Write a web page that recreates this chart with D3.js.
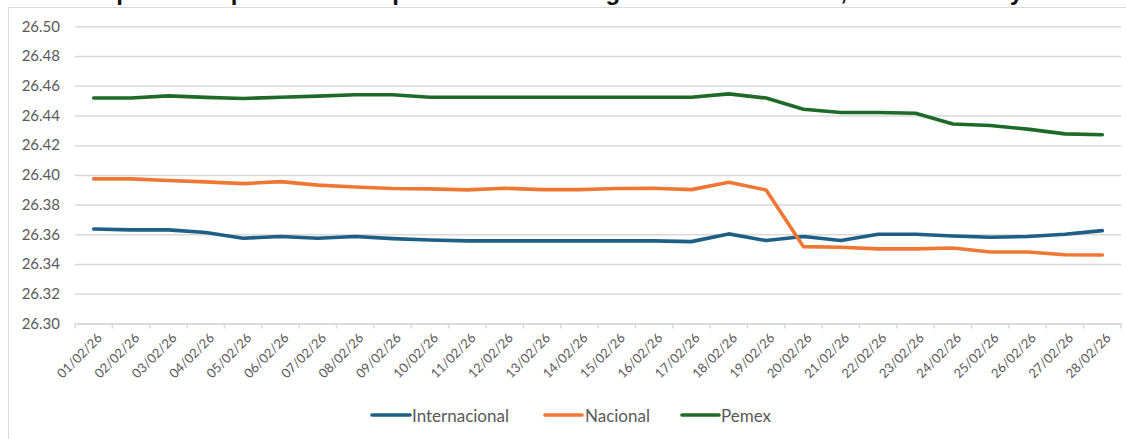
<!DOCTYPE html>
<html>
<head>
<meta charset="utf-8">
<script src="https://cdn.jsdelivr.net/npm/d3@7"></script>
<style>
  html, body { margin: 0; padding: 0; background: #fff; }
  svg { display: block; }
</style>
</head>
<body>
<svg id="chart" width="1126" height="439"></svg>
<script>
const categories = ["01/02/26","02/02/26","03/02/26","04/02/26","05/02/26","06/02/26","07/02/26",
  "08/02/26","09/02/26","10/02/26","11/02/26","12/02/26","13/02/26","14/02/26","15/02/26",
  "16/02/26","17/02/26","18/02/26","19/02/26","20/02/26","21/02/26","22/02/26","23/02/26",
  "24/02/26","25/02/26","26/02/26","27/02/26","28/02/26"];

const internacional = [26.3636,26.3630,26.3630,26.3612,26.3574,26.3585,26.3574,26.3585,26.3571,
  26.3562,26.3556,26.3556,26.3556,26.3556,26.3556,26.3556,26.3551,26.3603,26.3558,26.3585,
  26.3558,26.3601,26.3601,26.3589,26.3580,26.3585,26.3601,26.3625];

const nacional = [26.3973,26.3973,26.3962,26.3953,26.3941,26.3955,26.3931,26.3919,26.3908,
  26.3906,26.3899,26.3910,26.3901,26.3901,26.3908,26.3910,26.3901,26.3951,26.3899,26.3517,
  26.3513,26.3502,26.3502,26.3508,26.3481,26.3481,26.3463,26.3461];

const pemex = [26.4517,26.4517,26.4532,26.4522,26.4514,26.4523,26.4530,26.4539,26.4539,
  26.4523,26.4523,26.4523,26.4523,26.4523,26.4523,26.4523,26.4523,26.4545,26.4517,26.4442,
  26.4420,26.4420,26.4415,26.4343,26.4332,26.4308,26.4276,26.4270];

const seriesNames = ["Internacional","Nacional","Pemex"];
const seriesColors = ["#1d5f85","#ee7733","#1e6b28"];
const yTicks = [26.30,26.32,26.34,26.36,26.38,26.40,26.42,26.44,26.46,26.48,26.50];
const titleText = "Comparativo tipo de cambio para solventar obligaciones de Febrero, Internacional y Pemex";

(function () {
const svg = d3.select("#chart");
const W = 1126, H = 439;
const plotLeft = 75, plotRight = 1121, plotTop = 26.3, plotBottom = 323.5;
const FONT = "Lato, 'Open Sans', sans-serif";
const grey = "#595959";

// chart border
svg.append("rect").attr("x", 8.5).attr("y", 7.5).attr("width", W).attr("height", H)
  .attr("fill", "#fff").attr("stroke", "#d9d9d9").attr("stroke-width", 1);

// title (cut off at the top in the reference, only descenders visible)
svg.append("text").attr("x", 585).attr("y", -0.5)
  .attr("text-anchor", "middle").attr("font-family", "Liberation Sans, Arial, sans-serif")
  .attr("font-weight", "bold").attr("font-size", 24).attr("fill", "#111")
  .text(titleText);

const x = d3.scaleBand().domain(categories).range([plotLeft, plotRight]).paddingInner(0).paddingOuter(0);
const y = d3.scaleLinear().domain([26.30, 26.50]).range([plotBottom, plotTop]);
const cx = d => x(d) + x.bandwidth() / 2;

// gridlines + y labels
const yAxis = d3.axisLeft(y).tickValues(yTicks).tickFormat(d3.format(".2f"))
  .tickSize(-(plotRight - plotLeft)).tickPadding(15);
const gy = svg.append("g").attr("transform", `translate(${plotLeft},0)`).call(yAxis);
gy.select(".domain").remove();
gy.selectAll(".tick line").attr("stroke", "#d9d9d9").attr("stroke-width", 1.5);
gy.selectAll(".tick text").attr("font-family", FONT).attr("font-size", 15).attr("fill", grey);

// x axis
const xAxis = d3.axisBottom(x).tickSize(0).tickPadding(0);
const gx = svg.append("g").attr("transform", `translate(0,${plotBottom})`).call(xAxis);
gx.select(".domain").attr("stroke", "#d9d9d9").attr("stroke-width", 1.5);
gx.selectAll(".tick text")
  .attr("font-family", FONT).attr("font-size", 13).attr("fill", grey)
  .attr("text-anchor", "end")
  .attr("y", 0).attr("dy", "0.35em")
  .attr("transform", "translate(6,12) rotate(-45)");
// tick marks at category boundaries
const boundaries = categories.map(c => x(c)).concat([plotRight]);
gx.selectAll(".bound").data(boundaries).enter().append("line")
  .attr("x1", d => d).attr("x2", d => d).attr("y1", 0).attr("y2", 5)
  .attr("stroke", "#d9d9d9").attr("stroke-width", 1.5);

// lines
const allSeries = [internacional, nacional, pemex];
const line = d3.line().x((d, i) => cx(categories[i])).y(d => y(d));
allSeries.forEach((s, k) => {
  svg.append("path").datum(s).attr("d", line)
    .attr("fill", "none").attr("stroke", seriesColors[k]).attr("stroke-width", 3.6)
    .attr("stroke-linejoin", "round").attr("stroke-linecap", "round");
});

// legend
const legendItems = [
  {x1: 372, x2: 410, tx: 412},
  {x1: 545, x2: 582, tx: 585},
  {x1: 682, x2: 719, tx: 721}
];
const lg = svg.append("g");
seriesNames.forEach((n, k) => {
  const p = legendItems[k];
  lg.append("line").attr("x1", p.x1).attr("x2", p.x2).attr("y1", 415).attr("y2", 415)
    .attr("stroke", seriesColors[k]).attr("stroke-width", 3.6).attr("stroke-linecap", "round");
  lg.append("text").attr("x", p.tx).attr("y", 421.5)
    .attr("font-family", FONT).attr("font-size", 17).attr("fill", grey).text(n);
});
})();
</script>
</body>
</html>
